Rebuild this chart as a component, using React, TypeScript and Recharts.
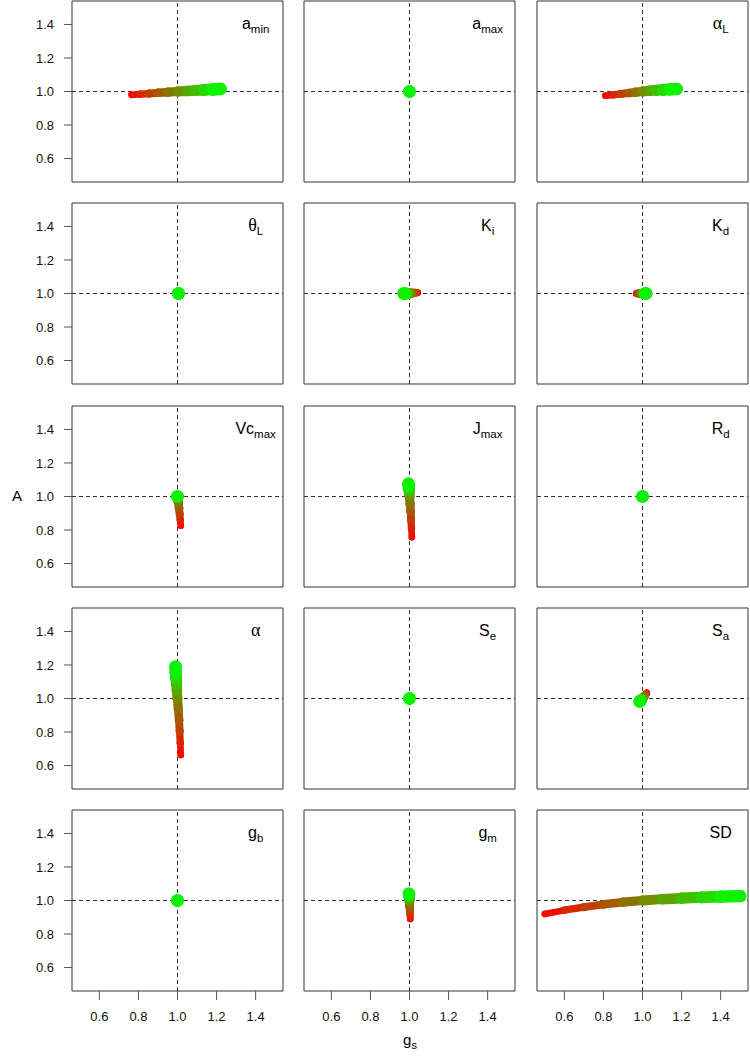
import React from "react";
import { ScatterChart, Scatter, XAxis, YAxis, ReferenceLine, ReferenceArea, ReferenceDot } from "recharts";

// relative g_s (x) and A (y) along each parameter sweep, from low (red) to high (green)
const aMin = [[0.765, 0.98], [0.81, 0.984], [0.855, 0.988], [0.9, 0.992], [0.95, 0.996], [1.0, 1.0], [1.045, 1.003], [1.09, 1.006], [1.135, 1.009], [1.18, 1.012], [1.22, 1.015]];
const aMax = [[1, 1], [1, 1], [1, 1], [1, 1], [1, 1], [1, 1], [1, 1], [1, 1], [1, 1], [1, 1], [1, 1]];
const alphaL = [[0.81, 0.975], [0.85, 0.98], [0.89, 0.986], [0.93, 0.991], [0.965, 0.996], [1.0, 1.0], [1.035, 1.004], [1.07, 1.007], [1.105, 1.01], [1.14, 1.013], [1.175, 1.015]];
const thetaL = [[0.998, 1], [0.999, 1], [1.0, 1], [1.0, 1], [1.0, 1], [1.0, 1], [1.001, 1], [1.002, 1], [1.003, 1], [1.005, 1], [1.006, 1]];
const Ki = [[1.042, 1.005], [1.035, 1.005], [1.028, 1.004], [1.02, 1.003], [1.01, 1.002], [1.0, 1.0], [0.993, 1.0], [0.987, 1.0], [0.981, 1.0], [0.975, 1.0], [0.97, 1.0]];
const Kd = [[0.968, 1.0], [0.974, 1.0], [0.98, 1.0], [0.986, 1.0], [0.993, 1.0], [1.0, 1.0], [1.004, 1.0], [1.008, 1.0], [1.012, 1.0], [1.016, 1.0], [1.019, 1.0]];
const vcMax = [[1.017, 0.826], [1.014, 0.86], [1.011, 0.895], [1.008, 0.93], [1.004, 0.965], [1.0, 1.0], [1.0, 1.0], [1.0, 1.0], [1.0, 1.0], [1.0, 1.0], [1.0, 1.0]];
const jMax = [[1.012, 0.757], [1.01, 0.81], [1.008, 0.86], [1.006, 0.91], [1.003, 0.955], [1.0, 1.0], [0.999, 1.02], [0.998, 1.037], [0.997, 1.052], [0.996, 1.065], [0.995, 1.076]];
const Rd = [[1, 1], [1, 1], [1, 1], [1, 1], [1, 1], [1, 1], [1, 1], [1, 1], [1, 1], [1, 1], [1, 1]];
const alpha = [[1.017, 0.663], [1.014, 0.735], [1.011, 0.805], [1.008, 0.87], [1.004, 0.937], [1.0, 1.0], [0.997, 1.045], [0.995, 1.085], [0.993, 1.12], [0.991, 1.157], [0.99, 1.19]];
const Se = [[1, 1], [1, 1], [1, 1], [1, 1], [1, 1], [1, 1], [1, 1], [1, 1], [1, 1], [1, 1], [1, 1]];
const Sa = [[1.022, 1.034], [1.018, 1.028], [1.014, 1.021], [1.009, 1.014], [1.005, 1.007], [1.0, 1.0], [0.997, 0.996], [0.994, 0.992], [0.991, 0.988], [0.988, 0.985], [0.985, 0.982]];
const gb = [[1, 1], [1, 1], [1, 1], [1, 1], [1, 1], [1, 1], [1, 1], [1, 1], [1, 1], [1, 1], [1, 1]];
const gm = [[1.004, 0.89], [1.003, 0.915], [1.002, 0.94], [1.001, 0.962], [1.0, 0.982], [1.0, 1.0], [0.999, 1.012], [0.999, 1.022], [0.998, 1.03], [0.998, 1.036], [0.997, 1.04]];
const SD = [[0.5, 0.92], [0.6, 0.942], [0.7, 0.96], [0.8, 0.977], [0.9, 0.99], [1.0, 1.0], [1.1, 1.008], [1.2, 1.014], [1.3, 1.019], [1.4, 1.023], [1.5, 1.026]];

const panels = [
  { name: "a", sub: "min", pts: aMin },
  { name: "a", sub: "max", pts: aMax },
  { name: "α", sub: "L", pts: alphaL, greek: true },
  { name: "θ", sub: "L", pts: thetaL, greek: true },
  { name: "K", sub: "i", pts: Ki },
  { name: "K", sub: "d", pts: Kd },
  { name: "Vc", sub: "max", pts: vcMax },
  { name: "J", sub: "max", pts: jMax },
  { name: "R", sub: "d", pts: Rd },
  { name: "α", sub: "", pts: alpha, greek: true },
  { name: "S", sub: "e", pts: Se },
  { name: "S", sub: "a", pts: Sa },
  { name: "g", sub: "b", pts: gb },
  { name: "g", sub: "m", pts: gm },
  { name: "SD", sub: "", pts: SD },
];

const ticks = [0.6, 0.8, 1.0, 1.2, 1.4];
const domain: [number, number] = [0.46, 1.54];

const colX = [72, 304, 537];
const rowY = [1, 203, 406, 608, 810];
const PW = 211;
const PH = 181;
const M = 6;
const FONT = "'Liberation Sans', Arial, sans-serif";
const SERIF = "'Liberation Serif', 'DejaVu Serif', serif";

const mix = (t: number) => `rgb(${Math.round(255 * (1 - t))},${Math.round(255 * t)},0)`;

function Panel({ p, row, col }: { p: (typeof panels)[number]; row: number; col: number }) {
  const left = col === 0;
  const bottom = row === 4;
  const yw = left ? 60 : 0;
  const xh = bottom ? 40 : 0;
  const n = p.pts.length;
  const data = p.pts.map(([x, y]) => ({ x, y }));
  return (
    <div style={{ position: "absolute", left: colX[col] - M - yw, top: rowY[row] - M }}>
      <ScatterChart width={PW + 2 * M + yw} height={PH + 2 * M + xh} margin={{ top: M, right: M, bottom: M, left: M }}>
        <XAxis
          type="number"
          dataKey="x"
          domain={domain}
          ticks={ticks}
          allowDataOverflow
          hide={!bottom}
          height={xh}
          axisLine={false}
          tickLine={{ stroke: "#555" }}
          tickSize={9}
          tickMargin={12}
          tick={{ fontSize: 13, fill: "#111", fontFamily: FONT }}
          tickFormatter={(v: number) => v.toFixed(1)}
        />
        <YAxis
          type="number"
          dataKey="y"
          domain={domain}
          ticks={ticks}
          allowDataOverflow
          hide={!left}
          width={yw}
          axisLine={false}
          tickLine={{ stroke: "#555" }}
          tickSize={8}
          tickMargin={10}
          tick={{ fontSize: 13, fill: "#111", fontFamily: FONT }}
          tickFormatter={(v: number) => v.toFixed(1)}
        />
        {data.slice(0, -1).map((d, i) => {
          const t = (i + 0.5) / (n - 1);
          const c = mix(t);
          const w = 2 * (3 + 3.2 * ((i + 1) / (n - 1)));
          return (
            <Scatter
              key={i}
              data={[d, data[i + 1]]}
              fill={c}
              isAnimationActive={false}
              line={{ stroke: c, strokeWidth: w, strokeLinecap: "round" }}
              shape={(s: any) => <circle cx={s.cx} cy={s.cy} r={w / 2} fill={c} />}
            />
          );
        })}
        <ReferenceLine x={1} stroke="#333" strokeDasharray="4 3" />
        <ReferenceLine y={1} stroke="#333" strokeDasharray="4 3" />
        <ReferenceArea x1={0.46} x2={1.54} y1={0.46} y2={1.54} fill="none" fillOpacity={0} stroke="#333" strokeWidth={1} />
        <ReferenceDot
          x={1.4}
          y={1.4}
          r={0}
          shape={(s: any) => (
            <text x={s.cx} y={s.cy + 5} textAnchor="middle" fontSize={16} fill="#000" fontFamily={FONT}>
              <tspan fontFamily={p.greek ? SERIF : FONT} fontSize={p.greek ? 18 : 16}>{p.name}</tspan>
              {p.sub ? (
                <tspan fontSize={11.5} dy={4}>{p.sub}</tspan>
              ) : null}
            </text>
          )}
        />
      </ScatterChart>
    </div>
  );
}

export default function App() {
  return (
    <div style={{ position: "absolute", left: 0, top: 0, width: 750, height: 1060, background: "#fff" }}>
      {panels.map((p, k) => (
        <Panel key={k} p={p} row={Math.floor(k / 3)} col={k % 3} />
      ))}
      <svg width={750} height={1060} style={{ position: "absolute", left: 0, top: 0, pointerEvents: "none" }}>
        <text x={17} y={501} textAnchor="middle" fontSize={15} fontFamily={FONT} fill="#000">A</text>
        <text x={410} y={1045} textAnchor="middle" fontSize={15} fontFamily={FONT} fill="#000">
          g<tspan fontSize={11} dy={4}>s</tspan>
        </text>
      </svg>
    </div>
  );
}
